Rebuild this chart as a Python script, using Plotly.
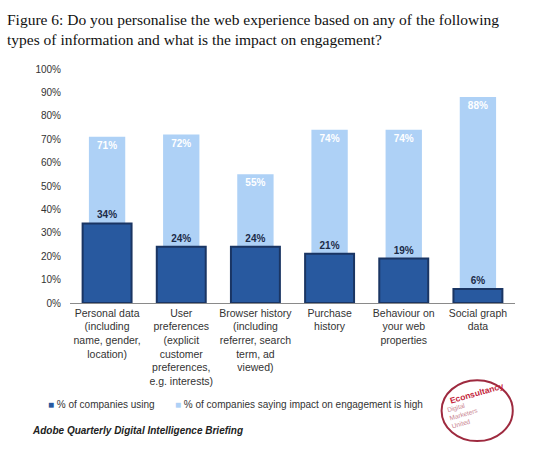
import plotly.graph_objects as go

categorias = [
    "Personal data<br>(including<br>name, gender,<br>location)",
    "User<br>preferences<br>(explicit<br>customer<br>preferences,<br>e.g. interests)",
    "Browser history<br>(including<br>referrer, search<br>term, ad<br>viewed)",
    "Purchase<br>history",
    "Behaviour on<br>your web<br>properties",
    "Social graph<br>data",
]
usando = [34, 24, 24, 21, 19, 6]
impacto_alto = [71, 72, 55, 74, 74, 88]
ticks_y = [0, 10, 20, 30, 40, 50, 60, 70, 80, 90, 100]
ticks_y_txt = [f"{v}%" for v in ticks_y]

nombre_usando = "% of companies using"
nombre_impacto = "% of companies saying impact on engagement is high"

color_oscuro = "#28599f"
color_claro = "#aed1f6"

fig = go.Figure()

# barra clara detrás (impacto alto)
fig.add_trace(go.Bar(
    x=categorias, y=impacto_alto, name=nombre_impacto,
    width=0.49,
    marker=dict(color=color_claro, line=dict(width=0)),
    text=[f"<b>{v}%</b>" for v in impacto_alto],
    textposition="inside", insidetextanchor="end",
    textfont=dict(family="Arial", size=10, color="white"),
    cliponaxis=False,
))

# barra oscura delante (uso)
fig.add_trace(go.Bar(
    x=categorias, y=usando, name=nombre_usando,
    width=0.66,
    marker=dict(color=color_oscuro, line=dict(color="#1a3563", width=2)),
    text=[f"<b>{v}%</b>" for v in usando],
    textposition="outside",
    textfont=dict(family="Arial", size=10, color="#1c2b48"),
    cliponaxis=False,
))

fig.update_layout(
    width=538, height=456,
    barmode="overlay",
    paper_bgcolor="white", plot_bgcolor="white",
    margin=dict(l=70, r=23, t=69, b=153),
    showlegend=False,
    xaxis=dict(
        showgrid=False, showline=True, linecolor="#8a8a8a", linewidth=1,
        tickfont=dict(family="Arial", size=10.5, color="#333"),
        ticks="",
    ),
    yaxis=dict(
        range=[0, 100], tickvals=ticks_y, ticktext=ticks_y_txt,
        showgrid=False, showline=False, zeroline=False,
        tickfont=dict(family="Arial", size=10, color="#333"),
        ticklabelstandoff=8,
    ),
)

# título
fig.add_annotation(
    text="Figure 6: Do you personalise the web experience based on any of the following<br>types of information and what is the impact on engagement?",
    xref="paper", yref="paper", x=-0.145, y=1.255, xanchor="left", yanchor="top",
    align="left", showarrow=False,
    font=dict(family="Georgia, 'Liberation Serif', serif", size=15.5, color="#111"),
)

# leyenda manual
fig.add_annotation(
    text=f"<span style='color:{color_oscuro}'>■</span> {nombre_usando}",
    xref="paper", yref="paper", x=-0.055, y=-0.435, xanchor="left", yanchor="middle",
    showarrow=False, font=dict(family="Arial", size=10, color="#333"),
)
fig.add_annotation(
    text=f"<span style='color:{color_claro}'>■</span> {nombre_impacto}",
    xref="paper", yref="paper", x=0.232, y=-0.435, xanchor="left", yanchor="middle",
    showarrow=False, font=dict(family="Arial", size=10, color="#333"),
)

# fuente
fig.add_annotation(
    text="<b><i>Adobe Quarterly Digital Intelligence Briefing</i></b>",
    xref="paper", yref="paper", x=-0.09, y=-0.545, xanchor="left", yanchor="middle",
    showarrow=False, font=dict(family="Arial", size=10, color="#222"),
)

# sello Econsultancy
fig.add_shape(
    type="circle", xref="paper", yref="paper", layer="below",
    x0=0.835, x1=0.995, y0=-0.59, y1=-0.33,
    line=dict(color="#9e2a3f", width=2),
)
fig.add_annotation(
    text="<b>Econsultancy</b>", xref="paper", yref="paper", x=0.915, y=-0.385,
    xanchor="center", yanchor="middle",
    showarrow=False, textangle=-16, font=dict(family="Arial", size=8.5, color="#c41e3a"),
)
fig.add_annotation(
    text="Digital<br>Marketers<br>United", xref="paper", yref="paper", x=0.885, y=-0.475,
    xanchor="center", yanchor="middle",
    showarrow=False, textangle=-16, align="left",
    font=dict(family="Arial", size=6.5, color="#c9838f"),
)

fig.write_html("out.html", config={"displayModeBar": False},
               post_script="document.body.style.margin='0';")
